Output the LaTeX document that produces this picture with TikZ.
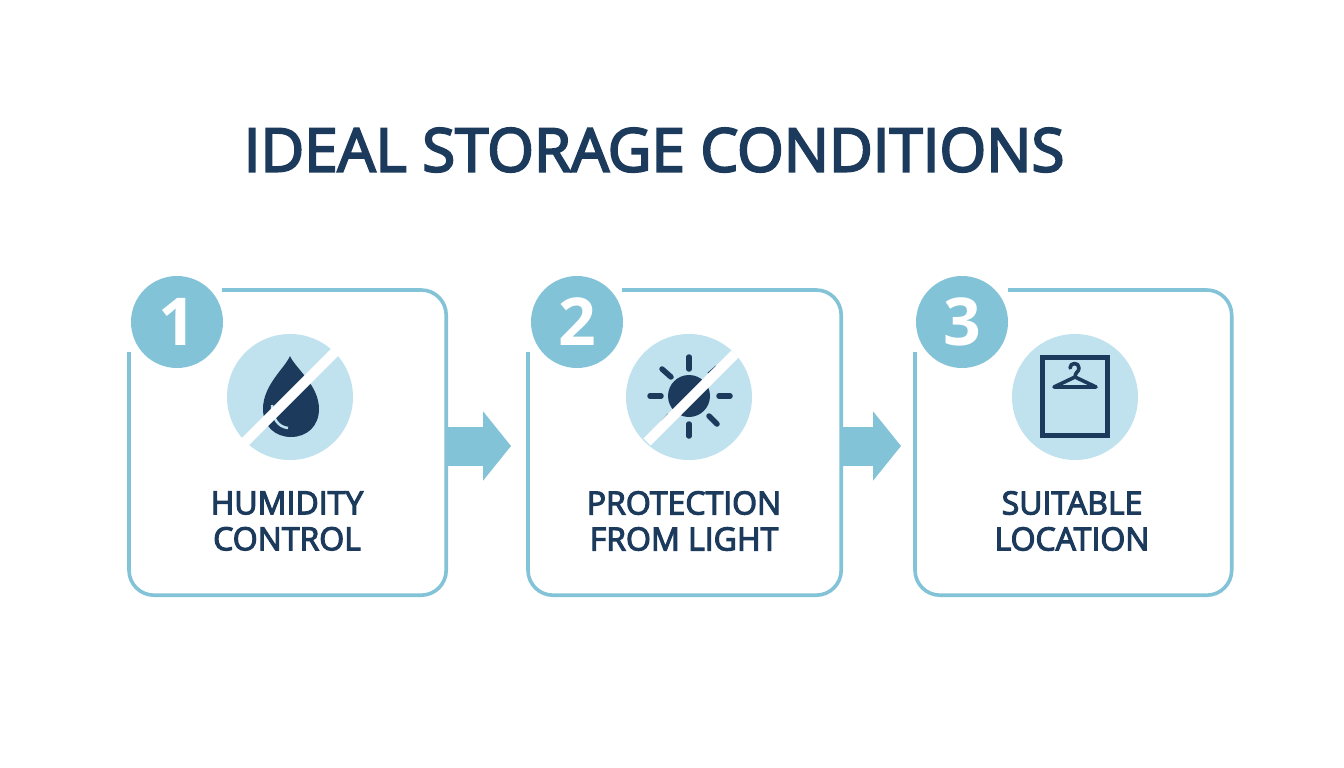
\documentclass[tikz,border=0pt]{standalone}
\usepackage{fontspec}
\setmainfont{Open Sans}
\newfontfamily\semifont[FakeBold=3.5]{Open Sans}
\usetikzlibrary{arrows.meta}
\definecolor{navy}{HTML}{1B3A5C}
\definecolor{teal1}{HTML}{82C3D8}
\definecolor{pale}{HTML}{BFE2EE}
\tikzset{
  card/.style = {minimum width=317pt, minimum height=305pt, inner sep=0pt},
  frame/.style = {draw=teal1, line width=3.6pt, rounded corners=25pt},
  badge/.style = {circle, fill=teal1, minimum size=92pt, inner sep=0pt, text=white, font=\fontsize{66}{66}\selectfont\bfseries},
  disc/.style = {circle, fill=pale, minimum size=126pt, inner sep=0pt},
  slash/.style = {draw=white, line width=10pt},
  label/.style = {text=navy, align=center, font=\fontsize{32}{36}\selectfont\semifont},
  flow/.style = {draw=teal1, line width=39pt, -{Triangle[length=28pt, width=68pt]}},
  ink/.style = {draw=navy, line cap=round, line join=round}
}
\begin{document}
\begin{tikzpicture}[x=1pt, y=1pt]
\useasboundingbox[fill=white] (0,0) rectangle (1344,-768);

\node[text=navy, font=\fontsize{60}{60}\selectfont\semifont] (title) at (654,-150) {IDEAL STORAGE CONDITIONS};

% cards
\node[card] (box1) at (287.5,-442.5) {};
\node[card, minimum width=313pt] (box2) at (684.5,-442.5) {};
\node[card] (box3) at (1073,-442.5) {};
\coordinate (top1) at (222,-290);
\coordinate (left1) at (129,-352);
\coordinate (top2) at (622,-290);
\coordinate (left2) at (528,-352);
\coordinate (top3) at (1008,-290);
\coordinate (left3) at (915,-352);
\draw[frame] (top1) -| (box1.south east) -| (left1);
\draw[frame] (top2) -| (box2.south east) -| (left2);
\draw[frame] (top3) -| (box3.south east) -| (left3);

\node[badge] (num1) at (177,-322) {1};
\node[badge] (num2) at (577,-322) {2};
\node[badge] (num3) at (962,-322) {3};

\node[disc] (disc1) at (290,-397) {};
\node[disc] (disc2) at (689,-397) {};
\node[disc] (disc3) at (1075,-397) {};

% drop
\fill[navy] (290,-356) .. controls (285,-368) and (263,-385) .. (263,-409)
  .. controls (263,-426) and (275,-437) .. (291,-437)
  .. controls (307,-437) and (319,-426) .. (319,-409)
  .. controls (319,-385) and (295,-368) .. (290,-356) -- cycle;
\draw[draw=pale, line width=2.5pt] (272,-405) .. controls (272,-418) and (278,-427) .. (288,-428);
\draw[slash] (335,-352) -- (245,-442);

% sun
\fill[navy] (689,-396) circle (21);
\draw[ink, line width=5.5pt] (689,-357) -- (689,-369);
\draw[ink, line width=5.5pt] (689,-424) -- (689,-436);
\draw[ink, line width=5.5pt] (650,-396) -- (661,-396);
\draw[ink, line width=5.5pt] (719,-396) -- (730,-396);
\draw[ink, line width=5.5pt] (662,-369) -- (671,-377);
\draw[ink, line width=5.5pt] (709,-416) -- (717,-424);
\draw[ink, line width=1pt] (708,-373) -- (716,-366);
\draw[ink, line width=1pt] (661,-422) -- (668,-414);
\draw[slash] (735,-354) -- (647,-442);

% wardrobe
\draw[draw=navy, line width=5pt] (1042.5,-357.5) rectangle (1107.5,-435.5);
\draw[ink, line width=3.6pt] (1070,-368) .. controls (1070,-362) and (1079,-362) .. (1079,-368)
  .. controls (1079,-372) and (1075,-372) .. (1075,-377) -- (1096,-387) -- (1054,-387) -- (1075,-377);

\node[label] (text1) at (287,-521) {HUMIDITY\\CONTROL};
\node[label] (text2) at (684,-521) {PROTECTION\\FROM LIGHT};
\node[label] (text3) at (1072,-521) {SUITABLE\\LOCATION};

\coordinate (tip1) at (511,-446);
\coordinate (tip2) at (901,-446);
\draw[flow] (box1.east |- tip1) -- (tip1);
\draw[flow] (box2.east |- tip2) -- (tip2);
\end{tikzpicture}
\end{document}
